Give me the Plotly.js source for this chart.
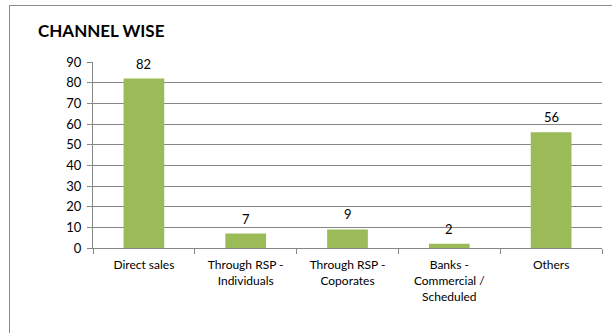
<!DOCTYPE html>
<html>
<head>
<meta charset="utf-8">
<script src="https://cdn.plot.ly/plotly-3.0.1.min.js"></script>
<style>
  html, body { margin: 0; padding: 0; background: #fff; }
  #wrap { position: relative; width: 612px; height: 333px; overflow: hidden; }
  #frame { position: absolute; left: 9px; top: 5px; width: 620px; height: 340px;
           border: 1px solid #8c8c8c; box-sizing: border-box; pointer-events: none; }
  #chart { position: absolute; left: 0; top: 0; width: 612px; height: 333px; }
</style>
</head>
<body>
<div id="wrap">
  <div id="chart"></div>
  <div id="frame"></div>
</div>
<script>
// Channel categories (multi-line labels use <br>)
const categories = [
  "Direct sales",
  "Through RSP -<br>Individuals",
  "Through RSP -<br>Coporates",
  "Banks -<br>Commercial /<br>Scheduled",
  "Others"
];
const values = [82, 7, 9, 2, 56];
const yTicks = [0, 10, 20, 30, 40, 50, 60, 70, 80, 90];

const FONT = "Lato, 'Open Sans', sans-serif";

const trace = {
  type: "bar",
  x: categories,
  y: values,
  marker: { color: "#9bbb59" },
  hoverinfo: "skip"
};

// value labels above each bar
const labels = categories.map((c, i) => ({
  x: c, y: values[i], xref: "x", yref: "y",
  text: String(values[i]), showarrow: false,
  yanchor: "bottom", yshift: 5,
  font: { family: FONT, size: 13, color: "#000" }
}));

const layout = {
  width: 612, height: 333,
  margin: { l: 93, r: 10, t: 62, b: 85 },
  paper_bgcolor: "rgba(0,0,0,0)",
  plot_bgcolor: "#fff",
  showlegend: false,
  bargap: 0.6,
  title: {
    text: "<b>CHANNEL WISE</b>",
    x: 38 / 612, xanchor: "left",
    y: 1 - 31 / 333, yanchor: "middle",
    font: { family: FONT, size: 17, color: "#000" }
  },
  xaxis: {
    type: "category",
    showline: true, linecolor: "#868686", linewidth: 1,
    ticks: "outside", tickson: "boundaries", ticklen: 5, tickcolor: "#868686",
    ticklabelstandoff: 6,
    showgrid: false,
    tickfont: { family: FONT, size: 12, color: "#000" }
  },
  yaxis: {
    range: [0, 90],
    tickvals: yTicks,
    ticktext: yTicks.map(String),
    showline: true, linecolor: "#868686", linewidth: 1,
    ticks: "outside", ticklen: 5, tickcolor: "#868686",
    ticklabelstandoff: 3,
    showgrid: true, gridcolor: "#868686", gridwidth: 1,
    zeroline: false,
    tickfont: { family: FONT, size: 13, color: "#000" }
  },
  annotations: labels
};

Plotly.newPlot("chart", [trace], layout, { displayModeBar: false, staticPlot: true });
</script>
</body>
</html>
